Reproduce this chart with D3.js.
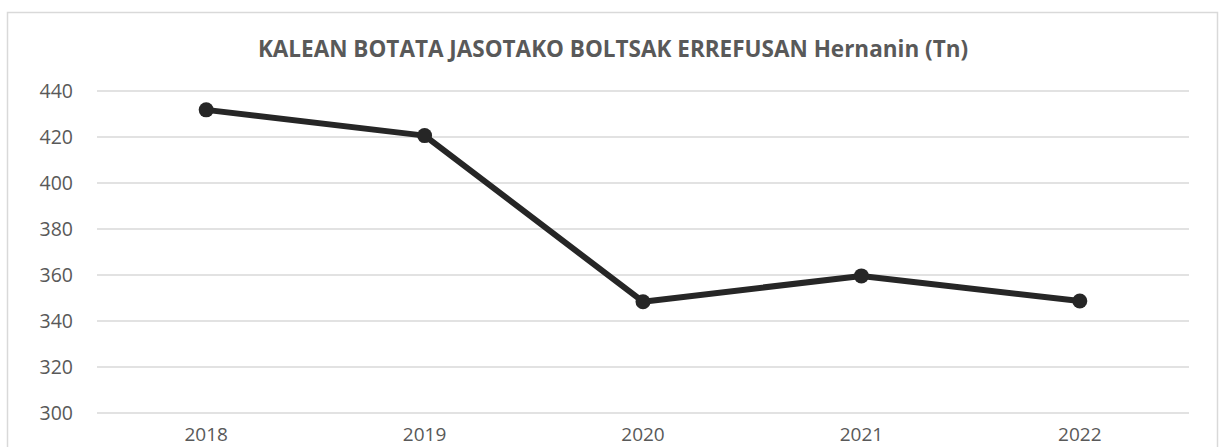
<!DOCTYPE html>
<html>
<head>
<meta charset="utf-8">
<script src="https://cdn.jsdelivr.net/npm/d3@7"></script>
<style>
  body { margin: 0; background: #fff; }
  svg { display: block; }
</style>
</head>
<body>
<div class="chart"></div>
<script>
// data
const years = ['2018', '2019', '2020', '2021', '2022'];
const values = [431.8, 420.6, 348.4, 359.6, 348.7];
const yTicks = [300, 320, 340, 360, 380, 400, 420, 440];
const title = 'KALEAN BOTATA JASOTAKO BOLTSAK ERREFUSAN Hernanin (Tn)';

const width = 1219, height = 447;
const margin = { left: 97, right: 30, top: 91, bottom: 34 };

const svg = d3.select('.chart').append('svg')
    .attr('width', width)
    .attr('height', height);

// chart area border
svg.append('rect')
    .attr('x', 7.5).attr('y', 12.5)
    .attr('width', 1210).attr('height', 460)
    .attr('fill', '#fff')
    .attr('stroke', '#d9d9d9')
    .attr('stroke-width', 1.5);

const x = d3.scaleBand()
    .domain(years)
    .range([margin.left, width - margin.right]);

const y = d3.scaleLinear()
    .domain([300, 440])
    .range([height - margin.bottom, margin.top]);

// gridlines
svg.append('g')
    .selectAll('line')
    .data(yTicks)
    .join('line')
    .attr('x1', margin.left)
    .attr('x2', width - margin.right)
    .attr('y1', d => y(d))
    .attr('y2', d => y(d))
    .attr('stroke', '#d9d9d9')
    .attr('stroke-width', 1.5);

// y axis labels
const yAxis = svg.append('g')
    .attr('transform', `translate(${margin.left - 24},0)`)
    .call(d3.axisLeft(y).tickValues(yTicks).tickSize(0).tickPadding(0));
yAxis.select('.domain').remove();
yAxis.selectAll('text')
    .attr('fill', '#595959')
    .style('font-family', '"Open Sans", sans-serif')
    .style('font-size', '19.5px');

// x axis labels
const xAxis = svg.append('g')
    .attr('transform', `translate(0,${height - 6})`)
    .call(d3.axisBottom(x).tickSize(0).tickPadding(0));
xAxis.select('.domain').remove();
xAxis.selectAll('text')
    .attr('fill', '#595959')
    .attr('dy', 0)
    .attr('y', 0)
    .style('font-family', '"Open Sans", sans-serif')
    .style('font-size', '19px');

// title
const t = svg.append('text')
    .attr('x', 613)
    .attr('y', 57)
    .attr('text-anchor', 'middle')
    .attr('fill', '#595959')
    .style('font-family', '"Open Sans", sans-serif')
    .style('font-weight', 'bold')
    .style('font-size', '22.5px')
    .text(title);
const tw = t.node().getComputedTextLength();
if (tw > 712) t.attr('textLength', 710).attr('lengthAdjust', 'spacingAndGlyphs');

// line
const line = d3.line()
    .x((d, i) => x(years[i]) + x.bandwidth() / 2)
    .y(d => y(d));

svg.append('path')
    .datum(values)
    .attr('d', line)
    .attr('fill', 'none')
    .attr('stroke', '#262626')
    .attr('stroke-width', 6)
    .attr('stroke-linejoin', 'round');

svg.append('g')
    .selectAll('circle')
    .data(values)
    .join('circle')
    .attr('cx', (d, i) => x(years[i]) + x.bandwidth() / 2)
    .attr('cy', d => y(d))
    .attr('r', 7.5)
    .attr('fill', '#262626');
</script>
</body>
</html>
